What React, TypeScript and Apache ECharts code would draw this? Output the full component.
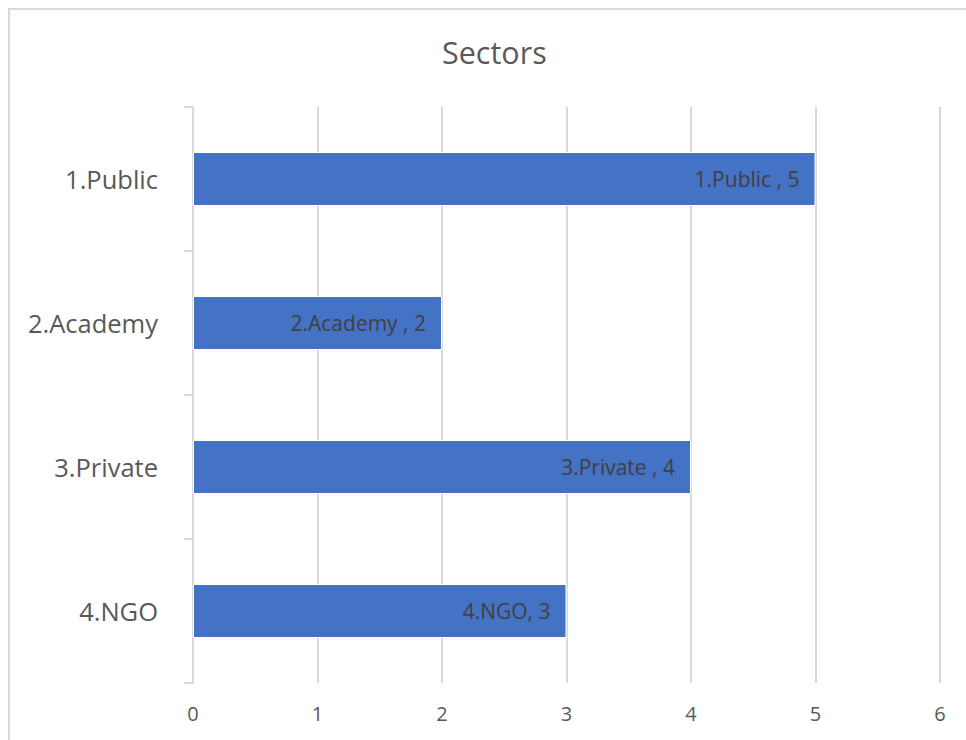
import React, { useEffect, useRef } from "react";
import * as echarts from "echarts";

const categories = ["1.Public", "2.Academy", "3.Private", "4.NGO"];
const values = [5, 2, 4, 3];
const labelSeparators = [" , ", " , ", " , ", ", "];
const xTicks = { min: 0, max: 6, interval: 1 };
const titleText = "Sectors";

const FONT = "'Open Sans', sans-serif";

export default function App() {
  const ref = useRef<HTMLDivElement>(null);
  useEffect(() => {
    if (!ref.current) return;
    const chart = echarts.init(ref.current, undefined, { renderer: "svg" });
    chart.setOption({
      animation: false,
      backgroundColor: "#ffffff",
      title: {
        text: titleText,
        left: 437,
        top: 31,
        textStyle: { fontFamily: FONT, fontSize: 30.5, fontWeight: "normal", color: "#595959" },
      },
      graphic: [
        {
          type: "rect",
          shape: { x: 9, y: 9, width: 2000, height: 2000 },
          style: { fill: "none", stroke: "#d9d9d9", lineWidth: 2 },
          silent: true,
        },
      ],
      grid: { left: 193, right: 26, top: 107, bottom: 57, containLabel: false },
      xAxis: {
        type: "value",
        min: xTicks.min,
        max: xTicks.max,
        interval: xTicks.interval,
        axisLine: { show: false },
        axisTick: { show: false },
        splitLine: { show: true, lineStyle: { color: "#d9d9d9", width: 2 } },
        axisLabel: { fontFamily: FONT, fontSize: 20, color: "#595959", margin: 20 },
      },
      yAxis: {
        type: "category",
        inverse: true,
        data: categories,
        axisLine: { show: true, lineStyle: { color: "#d9d9d9", width: 2 } },
        axisTick: { show: true, length: 9, lineStyle: { color: "#d9d9d9", width: 2 } },
        axisLabel: { fontFamily: FONT, fontSize: 25.5, color: "#595959", margin: 35 },
      },
      series: [
        {
          type: "bar",
          data: values,
          barWidth: 54,
          itemStyle: { color: "#4472C4", borderColor: "#ffffff", borderWidth: 1 },
          label: {
            show: true,
            position: "insideRight",
            distance: 16,
            fontFamily: FONT,
            fontSize: 21,
            color: "#404040",
            formatter: (p: any) => `${p.name}${labelSeparators[p.dataIndex]}${p.value}`,
          },
        },
      ],
    });
    return () => chart.dispose();
  }, []);
  return (
    <div
      ref={ref}
      style={{ position: "fixed", left: 0, top: 0, width: 966, height: 740 }}
    />
  );
}
